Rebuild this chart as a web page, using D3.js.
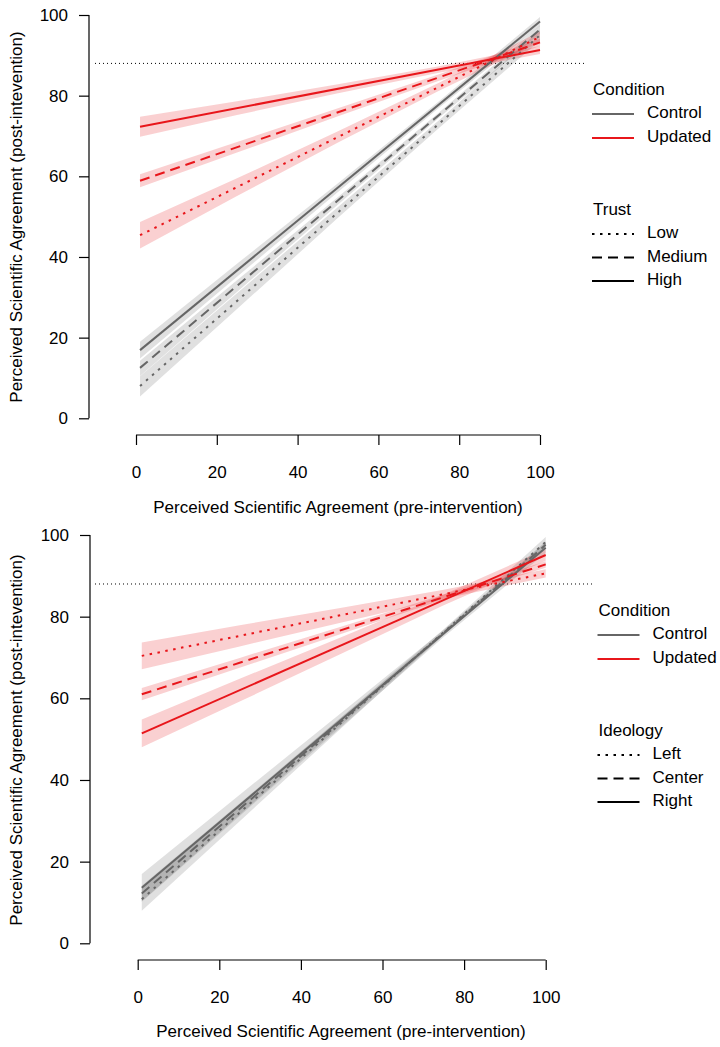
<!DOCTYPE html>
<html>
<head>
<meta charset="utf-8">
<script src="https://cdn.jsdelivr.net/npm/d3@7"></script>
<style>
  body { margin: 0; background: #fff; }
  svg text { font-family: "Liberation Sans", Arial, sans-serif; fill: #000; }
</style>
</head>
<body>
<svg width="720" height="1047"></svg>
<script>
// ---- data ----
var xTicks = [0, 20, 40, 60, 80, 100],
    yTicks = [0, 20, 40, 60, 80, 100],
    fitX = [1, 100],
    bandX = [1, 25, 50, 75, 100],
    conditions = ["Control", "Updated"],
    trustLevels = ["Low", "Medium", "High"],
    ideologyLevels = ["Left", "Center", "Right"],
    targetLine = 88

// top panel: Trust (Low, Medium, High)
var trustControlFit = [[8.0, 95.0], [12.5, 96.4], [16.9, 98.4]]
var trustUpdatedFit = [[45.4, 94.6], [58.9, 93.2], [72.3, 91.3]]
var trustControlLo = [[5.4, 27.1, 49.7, 72.0, 93.7], [10.5, 31.3, 53.0, 74.5, 95.4], [14.8, 35.1, 56.1, 77.0, 97.3]]
var trustControlHi = [[10.4, 31.0, 52.4, 73.9, 96.3], [14.3, 34.2, 54.9, 75.8, 97.4], [19.0, 38.3, 58.3, 78.6, 99.5]]
var trustUpdatedLo = [[42.1, 55.1, 68.4, 81.2, 93.3], [57.3, 65.9, 74.9, 83.7, 92.3], [69.8, 75.2, 80.6, 85.7, 90.3]]
var trustUpdatedHi = [[48.7, 59.5, 71.2, 83.2, 95.9], [60.5, 68.5, 76.9, 85.3, 94.1], [74.8, 78.6, 82.8, 87.3, 92.3]]

// bottom panel: Ideology (Left, Center, Right)
var ideoControlFit = [[10.8, 98.3], [12.2, 97.6], [13.6, 96.9]]
var ideoUpdatedFit = [[70.4, 90.6], [61.0, 92.8], [51.4, 95.1]]
var ideoControlLo = [[8.0, 29.9, 52.8, 75.5, 97.1], [10.3, 31.5, 53.6, 75.5, 96.8], [10.2, 31.2, 53.1, 75.0, 95.6]]
var ideoControlHi = [[13.6, 34.1, 55.4, 76.9, 99.5], [14.1, 34.3, 55.4, 76.5, 98.4], [17.0, 36.4, 56.5, 76.8, 98.2]]
var ideoUpdatedLo = [[67.1, 72.7, 78.6, 84.4, 89.6], [59.5, 67.5, 75.8, 84.2, 92.0], [48.0, 59.2, 71.0, 82.8, 93.7]]
var ideoUpdatedHi = [[73.7, 77.9, 82.2, 86.6, 91.6], [62.5, 69.9, 77.6, 85.4, 93.6], [54.8, 64.8, 75.0, 85.4, 96.5]]

// ---- styles ----
var condColor = { Control: "#666666", Updated: "#e8161b" },
    dashes = ["2.5,5.5", "10,6", null],   // dotted, dashed, solid
    fontSize = 17

var svg = d3.select("svg")

function drawPanel(p) {
    var x = d3.scaleLinear().domain([0, 100]).range([p.x0, p.x1]),
        y = d3.scaleLinear().domain([0, 100]).range([p.y0, p.y1])
    var g = svg.append("g")

    // y axis
    var ya = g.append("g").attr("transform", "translate(" + p.yAxisX + ",0)")
        .call(d3.axisLeft(y).tickValues(yTicks).tickSize(10).tickPadding(11))
    // x axis
    var xa = g.append("g").attr("transform", "translate(0," + p.xAxisY + ")")
        .call(d3.axisBottom(x).tickValues(xTicks).tickSize(10).tickPadding(21))
    ;[ya, xa].forEach(function (a) {
        a.select(".domain").attr("stroke", "#000").attr("stroke-width", 1.2)
        a.selectAll(".tick line").attr("stroke", "#000").attr("stroke-width", 1.2)
        a.selectAll(".tick text").attr("font-size", fontSize).attr("fill", "#000")
            .attr("font-family", "Liberation Sans, Arial, sans-serif")
    })
    // strip the d3 outer-tick hooks so the domain is a plain line
    ya.select(".domain").attr("d", "M0," + y(0) + "V" + y(100))
    xa.select(".domain").attr("d", "M" + x(0) + ",0H" + x(100))

    // axis titles
    g.append("text")
        .attr("transform", "translate(" + p.yTitleX + "," + p.yTitleY + ") rotate(-90)")
        .attr("text-anchor", "middle").attr("dominant-baseline", "middle")
        .attr("font-size", fontSize)
        .text("Perceived Scientific Agreement (post-intevention)")
    g.append("text")
        .attr("x", p.xTitleX).attr("y", p.xTitleY)
        .attr("text-anchor", "middle").attr("dominant-baseline", "middle")
        .attr("font-size", fontSize)
        .text("Perceived Scientific Agreement (pre-intervention)")

    // reference line
    g.append("line")
        .attr("x1", p.hlineX0).attr("x2", p.hlineX1)
        .attr("y1", y(targetLine)).attr("y2", y(targetLine))
        .attr("stroke", "#000").attr("stroke-width", 1)
        .attr("stroke-dasharray", "1,3")

    var area = d3.area()
        .x(function (d) { return x(d.x) })
        .y0(function (d) { return y(d.lo) })
        .y1(function (d) { return y(d.hi) })
    var line = d3.line()
        .x(function (d) { return x(d.x) })
        .y(function (d) { return y(d.v) })

    conditions.forEach(function (c) {
        var lo = p.lo[c], hi = p.hi[c]
        lo.forEach(function (row, i) {
            var pts = bandX.map(function (bx, j) { return { x: bx, lo: row[j], hi: hi[i][j] } })
            g.append("path").attr("d", area(pts))
                .attr("fill", condColor[c]).attr("fill-opacity", 0.2)
        })
    })
    conditions.forEach(function (c) {
        p.fit[c].forEach(function (row, i) {
            var pts = fitX.map(function (fx, j) { return { x: fx, v: row[j] } })
            g.append("path").attr("d", line(pts))
                .attr("fill", "none")
                .attr("stroke", condColor[c]).attr("stroke-width", 2)
                .attr("stroke-dasharray", dashes[i])
        })
    })

    // legends
    var lg = g.append("g").attr("transform", "translate(" + p.legX + "," + p.legY + ")")
    lg.append("text").attr("x", 1).attr("y", 0).attr("dominant-baseline", "middle")
        .attr("font-size", fontSize).text("Condition")
    conditions.forEach(function (c, i) {
        var yy = 23.5 + i * 24
        lg.append("line").attr("x1", 0).attr("x2", 42).attr("y1", yy).attr("y2", yy)
            .attr("stroke", condColor[c]).attr("stroke-width", 2)
        lg.append("text").attr("x", 55).attr("y", yy).attr("dominant-baseline", "middle")
            .attr("font-size", fontSize).text(c)
    })
    lg.append("text").attr("x", 1).attr("y", 120.5).attr("dominant-baseline", "middle")
        .attr("font-size", fontSize).text(p.groupTitle)
    p.levels.forEach(function (lv, i) {
        var yy = 143.5 + i * 23.5
        lg.append("line").attr("x1", 0).attr("x2", 42).attr("y1", yy).attr("y2", yy)
            .attr("stroke", "#000").attr("stroke-width", 2)
            .attr("stroke-dasharray", dashes[i])
        lg.append("text").attr("x", 55).attr("y", yy).attr("dominant-baseline", "middle")
            .attr("font-size", fontSize).text(lv)
    })
}

drawPanel({
    x0: 136, x1: 540, y0: 418.3, y1: 15,
    yAxisX: 89, xAxisY: 435,
    yTitleX: 18, yTitleY: 217, xTitleX: 338, xTitleY: 509,
    hlineX0: 95, hlineX1: 585,
    legX: 592, legY: 90.5,
    groupTitle: "Trust", levels: trustLevels,
    fit: { Control: trustControlFit, Updated: trustUpdatedFit },
    lo: { Control: trustControlLo, Updated: trustUpdatedLo },
    hi: { Control: trustControlHi, Updated: trustUpdatedHi }
})

drawPanel({
    x0: 137.7, x1: 545.7, y0: 943.3, y1: 535,
    yAxisX: 90, xAxisY: 960,
    yTitleX: 18, yTitleY: 740, xTitleX: 341, xTitleY: 1033,
    hlineX0: 95, hlineX1: 592,
    legX: 597.5, legY: 611.5,
    groupTitle: "Ideology", levels: ideologyLevels,
    fit: { Control: ideoControlFit, Updated: ideoUpdatedFit },
    lo: { Control: ideoControlLo, Updated: ideoUpdatedLo },
    hi: { Control: ideoControlHi, Updated: ideoUpdatedHi }
})
</script>
</body>
</html>
